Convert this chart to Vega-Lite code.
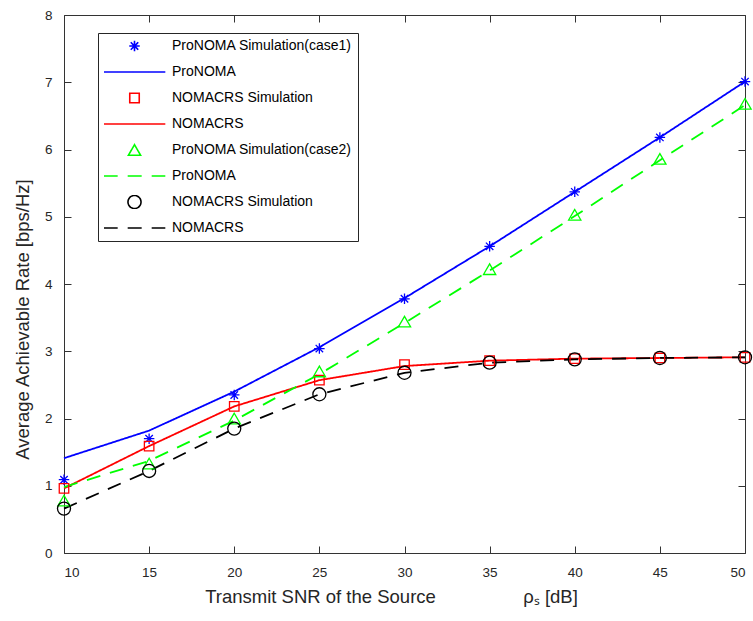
{
  "$schema": "https://vega.github.io/schema/vega-lite/v6.json",
  "width": 681,
  "height": 538,
  "autosize": {"type": "none"},
  "padding": {"left": 64, "top": 15, "right": 8, "bottom": 68},
  "background": "white",
  "data": {"values": [
    {"s": "a", "x": 10, "y": 1.09}, {"s": "a", "x": 15, "y": 1.70}, {"s": "a", "x": 20, "y": 2.35}, {"s": "a", "x": 25, "y": 3.04}, {"s": "a", "x": 30, "y": 3.78}, {"s": "a", "x": 35, "y": 4.56}, {"s": "a", "x": 40, "y": 5.37}, {"s": "a", "x": 45, "y": 6.18}, {"s": "a", "x": 50, "y": 7.01},
    {"s": "b", "x": 10, "y": 1.41}, {"s": "b", "x": 15, "y": 1.82}, {"s": "b", "x": 20, "y": 2.40}, {"s": "b", "x": 25, "y": 3.06}, {"s": "b", "x": 30, "y": 3.79}, {"s": "b", "x": 35, "y": 4.56}, {"s": "b", "x": 40, "y": 5.37}, {"s": "b", "x": 45, "y": 6.18}, {"s": "b", "x": 50, "y": 7.01},
    {"s": "c", "x": 10, "y": 0.96}, {"s": "c", "x": 15, "y": 1.59}, {"s": "c", "x": 20, "y": 2.18}, {"s": "c", "x": 25, "y": 2.57}, {"s": "c", "x": 30, "y": 2.80}, {"s": "c", "x": 35, "y": 2.86}, {"s": "c", "x": 40, "y": 2.89}, {"s": "c", "x": 45, "y": 2.90}, {"s": "c", "x": 50, "y": 2.91},
    {"s": "d", "x": 10, "y": 0.96}, {"s": "d", "x": 15, "y": 1.59}, {"s": "d", "x": 20, "y": 2.18}, {"s": "d", "x": 25, "y": 2.57}, {"s": "d", "x": 30, "y": 2.78}, {"s": "d", "x": 35, "y": 2.86}, {"s": "d", "x": 40, "y": 2.89}, {"s": "d", "x": 45, "y": 2.90}, {"s": "d", "x": 50, "y": 2.91},
    {"s": "e", "x": 10, "y": 0.78}, {"s": "e", "x": 15, "y": 1.33}, {"s": "e", "x": 20, "y": 2.00}, {"s": "e", "x": 25, "y": 2.70}, {"s": "e", "x": 30, "y": 3.44}, {"s": "e", "x": 35, "y": 4.22}, {"s": "e", "x": 40, "y": 5.03}, {"s": "e", "x": 45, "y": 5.86}, {"s": "e", "x": 50, "y": 6.68},
    {"s": "f", "x": 10, "y": 0.98}, {"s": "f", "x": 15, "y": 1.37}, {"s": "f", "x": 20, "y": 1.97}, {"s": "f", "x": 25, "y": 2.66}, {"s": "f", "x": 30, "y": 3.42}, {"s": "f", "x": 35, "y": 4.20}, {"s": "f", "x": 40, "y": 5.01}, {"s": "f", "x": 45, "y": 5.84}, {"s": "f", "x": 50, "y": 6.66},
    {"s": "g", "x": 10, "y": 0.66}, {"s": "g", "x": 15, "y": 1.22}, {"s": "g", "x": 20, "y": 1.85}, {"s": "g", "x": 25, "y": 2.36}, {"s": "g", "x": 30, "y": 2.68}, {"s": "g", "x": 35, "y": 2.83}, {"s": "g", "x": 40, "y": 2.88}, {"s": "g", "x": 45, "y": 2.90}, {"s": "g", "x": 50, "y": 2.91},
    {"s": "h", "x": 10, "y": 0.66}, {"s": "h", "x": 15, "y": 1.22}, {"s": "h", "x": 20, "y": 1.85}, {"s": "h", "x": 25, "y": 2.36}, {"s": "h", "x": 30, "y": 2.68}, {"s": "h", "x": 35, "y": 2.83}, {"s": "h", "x": 40, "y": 2.88}, {"s": "h", "x": 45, "y": 2.90}, {"s": "h", "x": 50, "y": 2.91}
  ]},
  "layer": [
    {
      "encoding": {
        "x": {"field": "x", "type": "quantitative", "scale": {"domain": [10, 50], "nice": false},
          "axis": {"values": [10, 15, 20, 25, 30, 35, 40, 45, 50], "tickSize": -7, "labelPadding": 19, "title": "Transmit SNR of the Source\u00a0\u00a0\u00a0\u00a0\u00a0\u00a0\u00a0\u00a0\u00a0\u00a0\u00a0\u00a0\u00a0\u00a0\u00a0\u00a0\u00a0ρₛ [dB]", "titleX": 327, "titleY": 49, "titleBaseline": "alphabetic", "titleAlign": "center"}},
        "y": {"field": "y", "type": "quantitative", "scale": {"domain": [0, 8], "nice": false},
          "axis": {"values": [0, 1, 2, 3, 4, 5, 6, 7, 8], "tickSize": -7, "labelPadding": 19, "title": "Average Achievable Rate [bps/Hz]", "titleX": -36, "titleY": 304, "titleBaseline": "alphabetic", "titleAngle": -90, "titleAlign": "center"}}
      },
      "layer": [
        {
          "transform": [{"filter": "indexof(['b','d','f','h'], datum.s) >= 0"}],
          "mark": {"type": "line", "strokeWidth": 1.8},
          "encoding": {
            "color": {"field": "s", "type": "nominal", "scale": {"domain": ["a","b","c","d","e","f","g","h"], "range": ["#0000ff","#0000ff","#ff0000","#ff0000","#00ff00","#00ff00","#000000","#000000"]},
              "legend": {
                "labelExpr": "['ProNOMA Simulation(case1)\u00a0\u00a0\u00a0\u00a0','ProNOMA','NOMACRS Simulation','NOMACRS','ProNOMA Simulation(case2)\u00a0\u00a0\u00a0\u00a0','ProNOMA','NOMACRS Simulation','NOMACRS'][indexof(['a','b','c','d','e','f','g','h'], datum.value)]",
                "encode": {"symbols": {"update": {
                  "size": {"signal": "indexof(['b','d','f','h'], datum.value) >= 0 ? 3800 : (datum.value == 'a' ? 110 : (datum.value == 'c' ? 90 : (datum.value == 'e' ? 150 : 170)))"},
                  "fill": {"value": "transparent"},
                  "strokeWidth": {"value": 1.6}
                }}}
              }},
            "strokeDash": {"field": "s", "type": "nominal", "scale": {"domain": ["a","b","c","d","e","f","g","h"], "range": [[1,0],[1,0],[1,0],[1,0],[1,0],[14,10],[1,0],[14,10]]}}
          }
        },
        {
          "transform": [{"filter": "datum.s == 'a'"}],
          "mark": {"type": "point", "filled": false, "size": 110, "strokeWidth": 1.3, "opacity": 1},
          "encoding": {
            "color": {"field": "s", "type": "nominal"},
            "shape": {"field": "s", "type": "nominal", "scale": {"domain": ["a","b","c","d","e","f","g","h"], "range": ["M-1,0L1,0M0,-1L0,1M-0.71,-0.71L0.71,0.71M-0.71,0.71L0.71,-0.71","stroke","square","stroke","triangle-up","stroke","circle","stroke"]}}
          }
        },
        {
          "transform": [{"filter": "datum.s == 'c'"}],
          "mark": {"type": "point", "filled": false, "size": 90, "strokeWidth": 1.3, "opacity": 1},
          "encoding": {"color": {"field": "s", "type": "nominal"}, "shape": {"field": "s", "type": "nominal"}}
        },
        {
          "transform": [{"filter": "datum.s == 'e'"}],
          "mark": {"type": "point", "filled": false, "size": 150, "strokeWidth": 1.3, "opacity": 1},
          "encoding": {"color": {"field": "s", "type": "nominal"}, "shape": {"field": "s", "type": "nominal"}}
        },
        {
          "transform": [{"filter": "datum.s == 'g'"}],
          "mark": {"type": "point", "filled": false, "size": 170, "strokeWidth": 1.3, "opacity": 1},
          "encoding": {"color": {"field": "s", "type": "nominal"}, "shape": {"field": "s", "type": "nominal"}}
        }
      ]
    },
    {
      "mark": {"type": "point", "opacity": 0},
      "encoding": {
        "x": {"field": "x", "type": "quantitative", "scale": {"domain": [10, 50], "nice": false},
          "axis": {"orient": "top", "values": [10, 15, 20, 25, 30, 35, 40, 45, 50], "tickSize": -7, "labels": false, "title": null}},
        "y": {"field": "y", "type": "quantitative", "scale": {"domain": [0, 8], "nice": false},
          "axis": {"orient": "right", "values": [0, 1, 2, 3, 4, 5, 6, 7, 8], "tickSize": -7, "labels": false, "title": null}}
      }
    }
  ],
  "resolve": {"axis": {"x": "independent", "y": "independent"}},
  "config": {
    "view": {"stroke": null},
    "font": "Liberation Sans",
    "axis": {
      "grid": false,
      "domainColor": "#333333",
      "domainWidth": 1,
      "ticks": true,
      "tickColor": "#333333",
      "tickWidth": 1,
      "labelFont": "Liberation Sans",
      "labelFontSize": 13.5,
      "labelColor": "#262626",
      "titleFont": "Liberation Sans",
      "titleFontSize": 18.5,
      "titleFontWeight": "normal",
      "titleColor": "#262626"
    },
    "legend": {
      "orient": "none",
      "legendX": 34,
      "legendY": 18,
      "title": null,
      "padding": 6,
      "strokeColor": "#262626",
      "fillColor": "white",
      "labelFont": "Liberation Sans",
      "labelFontSize": 14,
      "labelColor": "#000000",
      "symbolOffset": 23,
      "labelOffset": 30,
      "labelLimit": 400,
      "clipHeight": 14,
      "rowPadding": 12,
      "symbolStrokeWidth": 1.6,
      "symbolFillColor": "transparent",
      "symbolSize": 100
    }
  }
}
